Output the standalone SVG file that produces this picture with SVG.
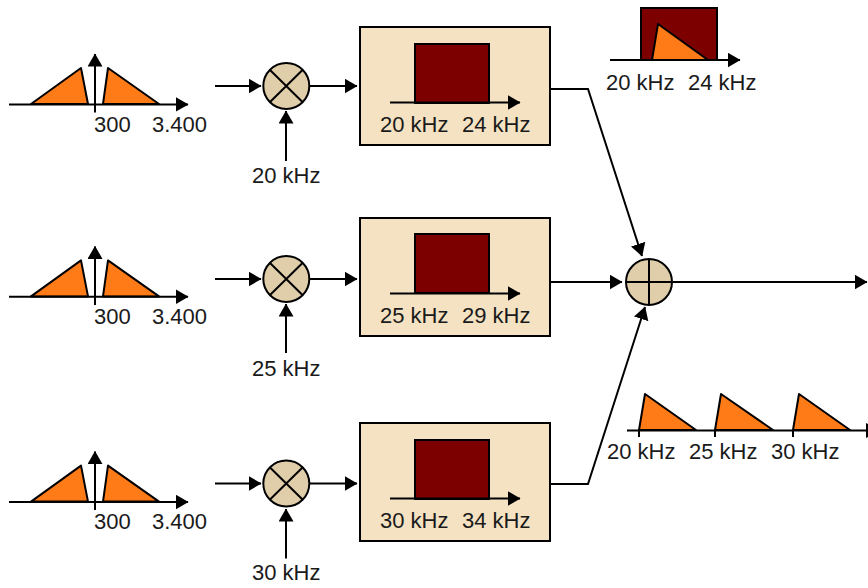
<svg xmlns="http://www.w3.org/2000/svg" width="868" height="588" viewBox="0 0 868 588">
<style>
text{font-family:"Liberation Sans",Arial,sans-serif;font-size:22px;fill:#1a1a1a}
.l{fill:none;stroke:#000;stroke-width:2}
.o{fill:#ff7b17;stroke:#000;stroke-width:2;stroke-linejoin:round}
.box{fill:#f5e2c2;stroke:#000;stroke-width:2}
.red{fill:#7d0000;stroke:#000;stroke-width:2}
.mix{fill:#e0cda9;stroke:#000;stroke-width:2}
</style>
<defs>
<marker id="a" markerUnits="userSpaceOnUse" markerWidth="13" markerHeight="15" refX="12.500" refY="7.500" orient="auto"><path d="M0 0L13 7.500L0 15Z" fill="#000"/></marker>
<g id="spec">
<path class="o" d="M31 104L81 68L88 104Z"/><path class="o" d="M103 104L108 68L159 104Z"/>
<path class="l" d="M9 104.400H188" marker-end="url(#a)"/>
<path class="l" d="M95 112.500V54" marker-end="url(#a)"/>
<text x="94" y="131.700">300</text><text x="152" y="131.700">3.400</text>
</g>
<g id="mixer"><circle class="mix" cx="286.300" cy="86" r="23"/><path class="l" d="M270 70L302.500 102M302.500 70L270 102"/></g>
</defs>
<g id="connectors">
<path class="l" d="M215 86H261" marker-end="url(#a)"/><path class="l" d="M310 86H357" marker-end="url(#a)"/><path class="l" d="M286 161V111" marker-end="url(#a)"/>
<path class="l" d="M215 279H261" marker-end="url(#a)"/><path class="l" d="M310 279H357" marker-end="url(#a)"/><path class="l" d="M286 353V304" marker-end="url(#a)"/>
<path class="l" d="M215 483.500H261" marker-end="url(#a)"/><path class="l" d="M310 483.500H357" marker-end="url(#a)"/><path class="l" d="M286 558.500V509" marker-end="url(#a)"/>
<path class="l" d="M550 89H588L642 256" marker-end="url(#a)"/>
<path class="l" d="M550 282H622" marker-end="url(#a)"/>
<path class="l" d="M550 484H588L645 307" marker-end="url(#a)"/>
<path class="l" d="M673 282H867" marker-end="url(#a)"/>
</g>
<g id="input1"><use href="#spec"/></g>
<g id="input2"><use href="#spec" y="192.400"/></g>
<g id="input3"><use href="#spec" y="397.600"/></g>
<g id="mixer1"><use href="#mixer"/></g>
<g id="mixer2"><use href="#mixer" y="193"/></g>
<g id="mixer3"><use href="#mixer" y="397.500"/></g>
<g id="label1"><text x="252" y="183">20 kHz</text></g>
<g id="label2"><text x="252" y="375.500">25 kHz</text></g>
<g id="label3"><text x="252" y="580">30 kHz</text></g>
<g id="filter1"><rect class="box" x="360" y="27" width="190" height="118"/><rect class="red" x="415" y="44" width="74" height="59"/><path class="l" d="M390 102.500H520" marker-end="url(#a)"/><text x="380" y="131.500">20 kHz</text><text x="462" y="131.500">24 kHz</text></g>
<g id="filter2"><rect class="box" x="360" y="218" width="190" height="118"/><rect class="red" x="415" y="234" width="74" height="59"/><path class="l" d="M390 293.500H520" marker-end="url(#a)"/><text x="380" y="322.500">25 kHz</text><text x="462" y="322.500">29 kHz</text></g>
<g id="filter3"><rect class="box" x="360" y="423" width="190" height="118"/><rect class="red" x="415" y="440" width="74" height="59"/><path class="l" d="M390 498.500H520" marker-end="url(#a)"/><text x="380" y="527.500">30 kHz</text><text x="462" y="527.500">34 kHz</text></g>
<g id="sum"><circle class="mix" cx="649" cy="282" r="23"/><path class="l" d="M649 259V305M626 282H672"/></g>
<g id="spectrum-top"><rect class="red" x="641" y="8" width="76" height="52"/><path class="o" d="M652 60L658 24L708 60Z"/><path class="l" d="M610 60H740" marker-end="url(#a)"/><text x="606" y="89.500">20 kHz</text><text x="688" y="89.500">24 kHz</text></g>
<g id="spectrum-bottom"><path class="o" d="M639 430L645 394L696 430Z"/><path class="o" d="M715 430L721 394L773 430Z"/><path class="o" d="M793 430L799 394L850 430Z"/><path class="l" d="M627 430.500H868"/><path d="M866 423L868 424V437L866 438Z"/><path class="l" d="M639 430V437M715 430V437M793 430V437"/><text x="607" y="459.300">20 kHz</text><text x="689" y="459.300">25 kHz</text><text x="771" y="459.300">30 kHz</text></g>
</svg>
